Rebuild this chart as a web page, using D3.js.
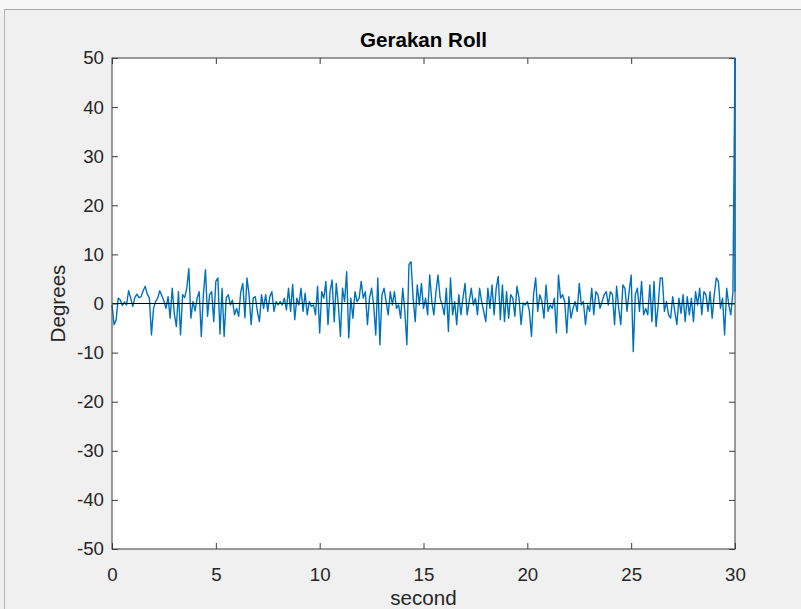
<!DOCTYPE html>
<html>
<head>
<meta charset="utf-8">
<script src="https://cdn.jsdelivr.net/npm/d3@7"></script>
<style>
  html, body { margin: 0; padding: 0; background: #f0f0f0; }
  svg { display: block; font-family: "Liberation Sans", Arial, Helvetica, sans-serif; }
</style>
</head>
<body>
<div id="vis"></div>
<script>
var dt = 0.1;
var roll0to6 = [-0.3,-4.3,-3.3,1.1,0.7,-0.4,0.3,-0.3,2.6,1.1, -0.6,1.2,1.9,1.2,1.4,2.6,3.5,1.9,1.1,-6.4,
  -1,0.4,1.1,2.6,1.6,0.5,-1,1.4,-3,3.1, -2,-4.7,2.4,-6.4,1.8,1.2,3.1,7.1,-3,0.4,
  -1.5,1.1,2.4,-6.7,1.8,6.9,-2.6,1.8,2.4,-3.7, 4.5,5.2,-6.2,3.1,-6.7,1.1,1.8,-0.3,0.7,-2.3];
var roll6to12 = [-1,-2.6,2.4,4.1,-2.9,5.2,1.8,-4.3,1.1,1.4, -1.6,-3.7,1.8,-1,1.8,-1.6,1.4,2.4,-1.6,0.4,
  -0.3,0.4,-0.3,1.1,-1.3,3.1,-1.6,3.9,-3.3,1.1, -0.3,3.1,-1.6,2.1,-2.3,0.4,-0.6,-0.3,-2.3,3.5,
  -6,2.4,1.1,4.5,-4.3,2.4,4.8,-3.7,4.1,-0.3, -6.7,3.1,0.4,6.5,-7,1.1,-3,2.4,0.4,1.1];
var roll12to18 = [4.5,1.1,2.4,-4.3,1.1,3.1,-0.3,-6.4,5.2,-8.4, 1.8,3.1,0.4,-2.3,2.4,-0.3,2.4,-1,-0.3,-3,
  3.1,-1.6,-8.4,7.9,8.5,1.1,-3.7,3.8,-0.3,4.1, -1,1.1,-2.3,5.8,0.4,-2.3,2.4,5.8,1.1,-0.3,
  -2.3,3.1,-5.7,5.2,-2.3,0.4,-4.3,1.8,-2.3,1.1, 4.1,-2.3,0.4,3.1,-0.3,1.1,-2.3,3.1,0.4,-1.6];
var roll18to24 = [-3.7,3.1,-1,3.8,-2.3,3.1,5.5,-3.3,3.8,-3.7, 2.4,-3,1.8,1.1,-2.6,3.5,1.1,-4.3,0.1,-0.3,
  0.4,-1.6,-6.7,1.8,5.2,-1.6,1.8,0.4,-3,3.8, -1.6,-0.3,-1,1.1,-6,5.8,1.1,1.8,0.4,-6,
  1.4,-3,-1,0.4,-1.6,4.1,-0.3,0.4,-4.3,-0.3, -1.6,3.1,-2.3,2.4,1.8,-1,0.4,1.8,2.4,-0.3];
var roll24to30 = [2.4,1.8,-4.3,3.5,-1,-4.3,3.8,3.1,-1.6,2.4, 5.8,-9.8,1.8,3.1,-1.6,4.5,-2.3,-1,-2.3,3.8,
  -3.7,4.5,-4.7,-0.3,5.2,5.2,-1.6,0.4,-2.3,-3, 1.4,-1.6,-4.3,1.1,-2,1.8,-3.7,1.4,-2.3,1.1,
  -3.7,2.4,-0.3,3.1,-2.3,2.4,1.8,-1.6,2.4,-3, 1.8,5.2,4.5,-1,1.1,-6.4,3.1,-0.3,-2.3,2.4,
  50];

var xTicks = [0, 5, 10, 15, 20, 25, 30];
var yTicks = [-50, -40, -30, -20, -10, 0, 10, 20, 30, 40, 50];

var roll = [].concat(roll0to6, roll6to12, roll12to18, roll18to24, roll24to30);
var data = roll.map(function(v, i) { return {t: i * dt, v: v}; });

var W = 801, H = 609;
var margin = {top: 58, right: 66, bottom: 60, left: 112},
    width = W - margin.left - margin.right,
    height = H - margin.top - margin.bottom;

var root = d3.select("#vis").append("svg")
    .attr("width", W)
    .attr("height", H);

// window chrome
root.append("rect").attr("x", 0).attr("y", 0).attr("width", W).attr("height", 9).attr("fill", "#f7f7f7");
root.append("line").attr("x1", 4).attr("x2", W).attr("y1", 9.5).attr("y2", 9.5).attr("stroke", "#a8a8a8");
root.append("line").attr("x1", 4.5).attr("x2", 4.5).attr("y1", 9).attr("y2", H).attr("stroke", "#b4b4b4");

var svg = root.append("g")
    .attr("transform", "translate(" + margin.left + "," + margin.top + ")");

var x = d3.scaleLinear().domain([0, 30]).range([0, width]);
var y = d3.scaleLinear().domain([-50, 50]).range([height, 0]);

svg.append("rect")
    .attr("width", width).attr("height", height)
    .attr("fill", "#fff");

svg.append("defs").append("clipPath").attr("id", "clip")
  .append("rect").attr("x", -1).attr("y", -1).attr("width", width + 2).attr("height", height + 2);

// signal
var line = d3.line()
    .x(function(d) { return x(d.t); })
    .y(function(d) { return y(d.v); });

svg.append("path")
    .datum(data)
    .attr("clip-path", "url(#clip)")
    .attr("fill", "none")
    .attr("stroke", "#0072bd")
    .attr("stroke-width", 1.4)
    .attr("stroke-linejoin", "round")
    .attr("d", line);

// zero reference line
svg.append("line")
    .attr("x1", x(0)).attr("x2", x(30))
    .attr("y1", y(0)).attr("y2", y(0))
    .attr("stroke", "#000")
    .attr("stroke-width", 1);

// axes, ticks point inward like MATLAB
var tickLen = 6, axisColor = "#3c3c3c", textColor = "#262626";
var plain = function(d) { return String(d); };   // keep the ASCII hyphen for negatives

function styleAxis(g) {
  g.select(".domain").remove();
  g.selectAll(".tick line").attr("stroke", axisColor);
  g.selectAll(".tick text").attr("fill", textColor).style("font-size", "18.7px");
}

svg.append("g")
    .attr("transform", "translate(0," + height + ")")
    .call(d3.axisBottom(x).tickValues(xTicks).tickFormat(plain).tickSizeInner(-tickLen).tickSizeOuter(0).tickPadding(19))
    .call(styleAxis)
    .call(function(g) { g.selectAll(".tick text").attr("dy", "0.71em"); });

svg.append("g")
    .call(d3.axisTop(x).tickValues(xTicks).tickSizeInner(-tickLen).tickSizeOuter(0).tickFormat(""))
    .call(styleAxis);

svg.append("g")
    .call(d3.axisLeft(y).tickValues(yTicks).tickFormat(plain).tickSizeInner(-tickLen).tickSizeOuter(0).tickPadding(8))
    .call(styleAxis);

svg.append("g")
    .attr("transform", "translate(" + width + ",0)")
    .call(d3.axisRight(y).tickValues(yTicks).tickSizeInner(-tickLen).tickSizeOuter(0).tickFormat(""))
    .call(styleAxis);

// box
svg.append("rect")
    .attr("width", width).attr("height", height)
    .attr("fill", "none")
    .attr("stroke", axisColor)
    .attr("stroke-width", 1);

// redraw the right edge of the signal over the box (the jump to 50 at t = 30)
svg.append("line")
    .attr("x1", x(30)).attr("x2", x(30))
    .attr("y1", y(roll[roll.length - 1])).attr("y2", y(roll[roll.length - 2]))
    .attr("stroke", "#0072bd").attr("stroke-width", 1.4);

// title and labels
root.append("text")
    .attr("x", margin.left + width / 2).attr("y", 47)
    .attr("text-anchor", "middle")
    .attr("fill", "#000")
    .style("font-size", "20.6px").style("font-weight", "bold")
    .text("Gerakan Roll");

root.append("text")
    .attr("x", margin.left + width / 2).attr("y", 605)
    .attr("text-anchor", "middle")
    .attr("fill", textColor)
    .style("font-size", "20.6px")
    .text("second");

root.append("text")
    .attr("transform", "translate(65," + (margin.top + height / 2) + ")rotate(-90)")
    .attr("text-anchor", "middle")
    .attr("fill", textColor)
    .style("font-size", "20.6px")
    .text("Degrees");
</script>
</body>
</html>
